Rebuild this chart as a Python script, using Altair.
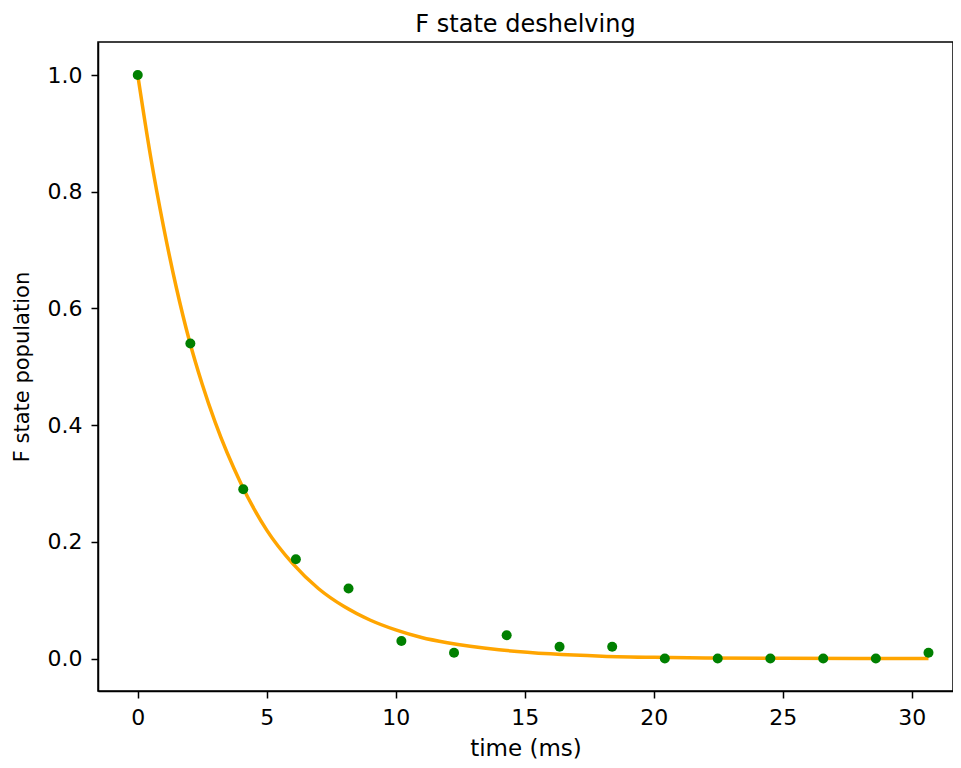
import altair as alt
import pandas as pd

# measured data points
t_points = [0.0, 2.04, 4.09, 6.13, 8.17, 10.22, 12.26, 14.30, 16.35, 18.39,
            20.43, 22.48, 24.52, 26.57, 28.61, 30.65]
pop_points = [1.0, 0.54, 0.29, 0.17, 0.12, 0.03, 0.01, 0.04, 0.02, 0.02,
              0.0, 0.0, 0.0, 0.0, 0.0, 0.01]

# fitted curve
t_fit = [0, 0.5, 1, 1.5, 2, 2.5, 3, 4, 5, 6, 7, 8, 9, 10, 11, 12, 14, 16, 18,
         20, 22, 25, 28, 30.65]
pop_fit = [1.0, 0.86, 0.74, 0.635, 0.545, 0.47, 0.405, 0.30, 0.22, 0.163, 0.12,
           0.089, 0.066, 0.049, 0.036, 0.027, 0.015, 0.008, 0.004, 0.002, 0.001,
           0.0005, 0.0002, 0.0]

x_ticks = [0, 5, 10, 15, 20, 25, 30]
y_ticks = [0.0, 0.2, 0.4, 0.6, 0.8, 1.0]

pts = pd.DataFrame({"t": t_points, "p": pop_points})
fit = pd.DataFrame({"t": t_fit, "p": pop_fit})

FONT = "DejaVu Sans"
xs = alt.Scale(domain=[-1.54, 31.6], nice=False, zero=False)
ys = alt.Scale(domain=[-0.0557, 1.0566], nice=False, zero=False)

x_enc = alt.X("t:Q", scale=xs, title="time (ms)",
              axis=alt.Axis(values=x_ticks, format="d", grid=False,
                            titleFontSize=23, titlePadding=9))
y_enc = alt.Y("p:Q", scale=ys, title="F state population",
              axis=alt.Axis(values=y_ticks, format=".1f", grid=False,
                            titleFontSize=21, titlePadding=15))

line = alt.Chart(fit).mark_line(color="#FFA500", strokeWidth=3.5,
                                interpolate="monotone", clip=True).encode(x=x_enc, y=y_enc)
dots = alt.Chart(pts).mark_circle(color="#008000", opacity=1, size=100).encode(x=x_enc, y=y_enc)

chart = (line + dots).properties(
    width=855, height=649,
    title=alt.Title("F state deshelving", font=FONT, fontSize=24, fontWeight="normal",
                    color="black", offset=5),
    autosize=alt.AutoSizeParams(type="none"),
    padding={"left": 90, "top": 34, "right": 0, "bottom": 69},
).configure_view(
    stroke="black", strokeWidth=1.5
).configure_axis(
    labelFont=FONT, titleFont=FONT, labelFontSize=22,
    titleFontWeight="normal", labelColor="black", titleColor="black",
    domainColor="black", tickColor="black", domainWidth=1.5, tickWidth=1.5,
    tickSize=7, labelPadding=9,
)

chart.save("out.html", embed_options={"renderer": "svg", "actions": False})
